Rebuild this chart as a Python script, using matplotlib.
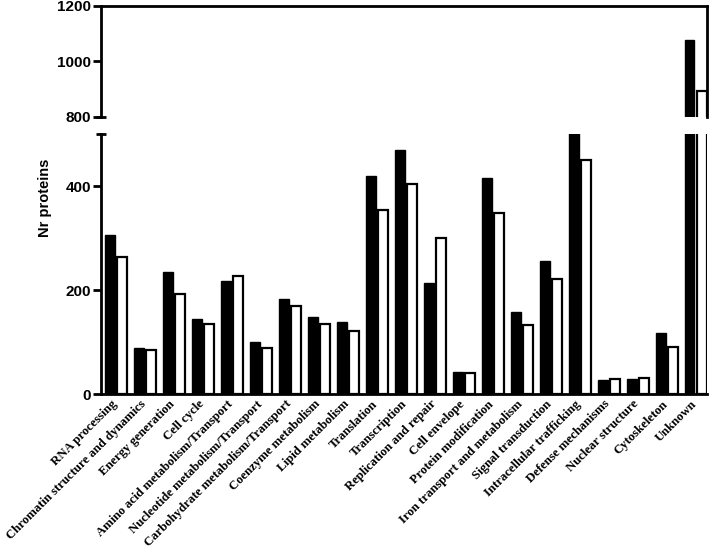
import matplotlib.pyplot as plt
import matplotlib.transforms as mtransforms
import numpy as np

categories = ['RNA processing', 'Chromatin structure and dynamics', 'Energy generation',
              'Cell cycle', 'Amino acid metabolism/Transport', 'Nucleotide metabolism/Transport',
              'Carbohydrate metabolism/Transport', 'Coenzyme metabolism', 'Lipid metabolism',
              'Translation', 'Transcription', 'Replication and repair', 'Cell envelope',
              'Protein modification', 'Iron transport and metabolism', 'Signal transduction',
              'Intracellular trafficking', 'Defense mechanisms', 'Nuclear structure',
              'Cytoskeleton', 'Unknown']
black_vals = [306, 88, 235, 144, 217, 101, 183, 148, 138, 420, 470, 213, 43, 415, 157,
              256, 520, 27, 28, 117, 1076]
white_vals = [263, 85, 192, 135, 226, 88, 170, 135, 122, 354, 404, 300, 41, 348, 133,
              221, 450, 28, 30, 91, 895]

lower_lim = (0, 500)
upper_lim = (800, 1200)

x = np.arange(len(categories))
off = 0.21
w = 0.34
lw = 2.0

fig = plt.figure(figsize=(7.09, 5.57), dpi=100)
ax_lo = fig.add_axes([0.1425, 0.2926, 0.855, 0.4668])
ax_hi = fig.add_axes([0.1425, 0.790, 0.855, 0.1993])

for ax in (ax_lo, ax_hi):
    ax.bar(x - off, black_vals, width=w, color='black', edgecolor='black', linewidth=1.0)
    ax.bar(x + off, white_vals, width=w, color='white', edgecolor='black', linewidth=1.6)
    ax.set_xlim(-0.52, 20.4)
    for s in ax.spines.values():
        s.set_linewidth(lw)
    ax.tick_params(axis='y', direction='out', length=6, width=lw, pad=1)

ax_lo.set_ylim(*lower_lim)
ax_lo.set_yticks([0, 200, 400])
ax_lo.set_yticklabels(['0', '200', '400'], fontweight='bold', fontsize=11, family='Liberation Sans')
ax_lo.spines['top'].set_visible(False)
ax_lo.spines['right'].set_visible(False)
ax_lo.set_xticks(x)
ax_lo.tick_params(axis='x', length=0, pad=3)
ax_lo.set_xticklabels(categories, rotation=45, ha='right', rotation_mode='anchor',
                      fontsize=9.2, fontweight='bold', family='Liberation Serif')
shift = mtransforms.ScaledTranslation(-5 / 100, 0, fig.dpi_scale_trans)
for lab in ax_lo.get_xticklabels():
    lab.set_transform(lab.get_transform() + shift)

ax_hi.set_ylim(*upper_lim)
ax_hi.set_yticks([800, 1000, 1200])
ax_hi.set_yticklabels(['800', '1000', '1200'], fontweight='bold', fontsize=11, family='Liberation Sans')
ax_hi.spines['bottom'].set_visible(False)
ax_hi.set_xticks([])

fig.text(0.063, 0.644, 'Nr proteins', rotation=90, ha='center', va='center',
         fontsize=10.5, fontweight='bold', family='Liberation Sans')

# break caps
ax_lo.plot([-0.009, 0.009], [1, 1], transform=ax_lo.transAxes, color='black',
           lw=lw, clip_on=False, solid_capstyle='butt')
ax_hi.plot([-0.009, 0.009], [0, 0], transform=ax_hi.transAxes, color='black',
           lw=lw, clip_on=False, solid_capstyle='butt')

fig.savefig('out.png', dpi=100)
